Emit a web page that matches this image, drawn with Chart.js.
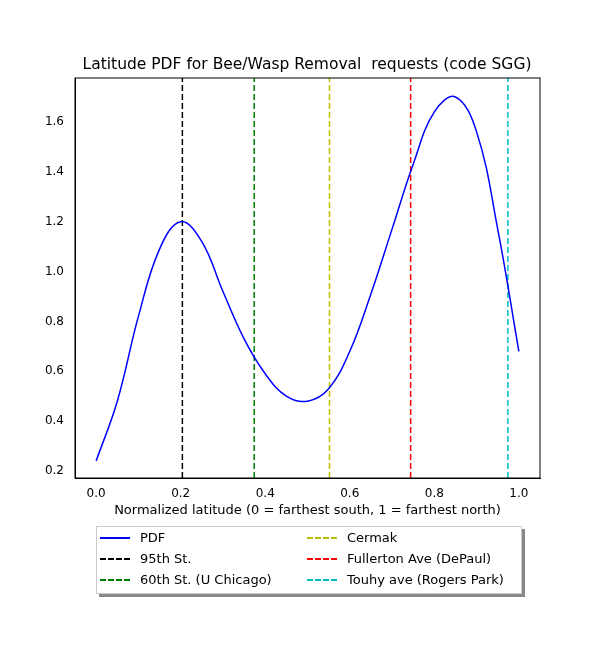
<!DOCTYPE html>
<html lang="en">
<head>
<meta charset="UTF-8">
<script src="https://cdn.jsdelivr.net/npm/chart.js"></script>
<title>Latitude PDF</title>
<style>
  body { margin: 0; background: #fff; font-family: "DejaVu Sans", sans-serif; }
  #wrap { position: relative; width: 600px; height: 650px; }
  #title { position: absolute; top: 55px; left: 0; width: 614px; text-align: center; font-size: 15.5px; }
  #legend { position: absolute; left: 96px; top: 526px; width: 424px; height: 66px; border: 1px solid #ccc;
            background: #fff; box-shadow: 3px 3px 0 #888; font-size: 13px; }
  .item { position: absolute; display: flex; align-items: center; }
  .item span.l { width: 30px; height: 0; margin-right: 10px; border-top-width: 2px; }
</style>
</head>
<body>
<div id="wrap">
  <canvas id="c" width="600" height="650"></canvas>
  <div id="title">Latitude PDF for Bee/Wasp Removal&nbsp; requests (code SGG)</div>
  <div id="legend"></div>
</div>
<script>
const pdfX = [0, 0.05, 0.10, 0.15, 0.20, 0.25, 0.30, 0.35, 0.40, 0.45, 0.50, 0.55, 0.60, 0.65, 0.70, 0.75, 0.80, 0.85, 0.90, 0.95, 1.00];
const pdfY = [0.24, 0.48, 0.82, 1.09, 1.20, 1.12, 0.92, 0.73, 0.59, 0.50, 0.48, 0.53, 0.68, 0.91, 1.17, 1.43, 1.64, 1.70, 1.56, 1.17, 0.68];
const markNames = ['95th St.', '60th St. (U Chicago)', 'Cermak', 'Fullerton Ave (DePaul)', 'Touhy ave (Rogers Park)'];
const markX = [0.204, 0.374, 0.552, 0.744, 0.974];
const markColors = ['#000000', '#008000', '#bfbf00', '#ff0000', '#00bfbf'];
const xTicks = [0, 0.2, 0.4, 0.6, 0.8, 1.0];
const yTicks = [0.2, 0.4, 0.6, 0.8, 1.0, 1.2, 1.4, 1.6];
const yMin = 0.172, yMax = 1.776;

const datasets = [{
  label: 'PDF',
  data: pdfX.map((x, i) => ({x: x, y: pdfY[i]})),
  borderColor: '#0000ff', borderWidth: 1.5, pointRadius: 0, tension: 0.4, fill: false
}];
markX.forEach((x, i) => {
  datasets.push({
    label: markNames[i],
    data: [{x: x, y: yMin}, {x: x, y: yMax}],
    borderColor: markColors[i], borderWidth: 1.5, borderDash: [6, 3], pointRadius: 0
  });
});

new Chart(document.getElementById('c'), {
  type: 'line',
  data: { datasets: datasets },
  options: {
    responsive: false, animation: false,
    layout: { padding: { left: 0, right: 60, top: 78, bottom: 128 } },
    plugins: { legend: { display: false }, tooltip: { enabled: false } },
    scales: {
      x: {
        type: 'linear', min: -0.05, max: 1.05,
        afterBuildTicks: s => { s.ticks = xTicks.map(v => ({value: v})); },
        afterFit: s => { s.height = 44; },
        grid: { display: false, drawTicks: true },
        border: { color: '#000' },
        ticks: { color: '#000', padding: 1, font: { size: 12, family: 'DejaVu Sans' }, callback: v => v.toFixed(1) },
        title: { display: true, text: 'Normalized latitude (0 = farthest south, 1 = farthest north)', color: '#000', font: { size: 13, family: 'DejaVu Sans' }, padding: { top: 4 } }
      },
      y: {
        min: yMin, max: yMax,
        afterBuildTicks: s => { s.ticks = yTicks.map(v => ({value: v})); },
        afterFit: s => { s.width = 75; },
        grid: { display: false },
        border: { color: '#000' },
        ticks: { color: '#000', font: { size: 12, family: 'DejaVu Sans' }, callback: v => v.toFixed(1) }
      }
    }
  },
  plugins: [{
    id: 'frame',
    afterDraw(chart) {
      const a = chart.chartArea, ctx = chart.ctx;
      ctx.save(); ctx.strokeStyle = '#000'; ctx.lineWidth = 1;
      ctx.strokeRect(a.left, a.top, a.right - a.left, a.bottom - a.top);
      ctx.restore();
    }
  }]
});

const legend = document.getElementById('legend');
const entries = [['PDF', '#0000ff', false]].concat(markNames.map((n, i) => [n, markColors[i], true]));
const pos = [[0, 0], [0, 1], [0, 2], [1, 0], [1, 1], [1, 2]];
entries.forEach((e, i) => {
  const d = document.createElement('div');
  d.className = 'item';
  d.style.left = (pos[i][0] ? 210 : 3) + 'px';
  d.style.top = (3 + pos[i][1] * 21) + 'px';
  const line = document.createElement('span');
  line.className = 'l';
  line.style.borderTopStyle = e[2] ? 'dashed' : 'solid';
  line.style.borderTopColor = e[1];
  d.appendChild(line);
  d.appendChild(document.createTextNode(e[0]));
  legend.appendChild(d);
});
</script>
</body>
</html>
